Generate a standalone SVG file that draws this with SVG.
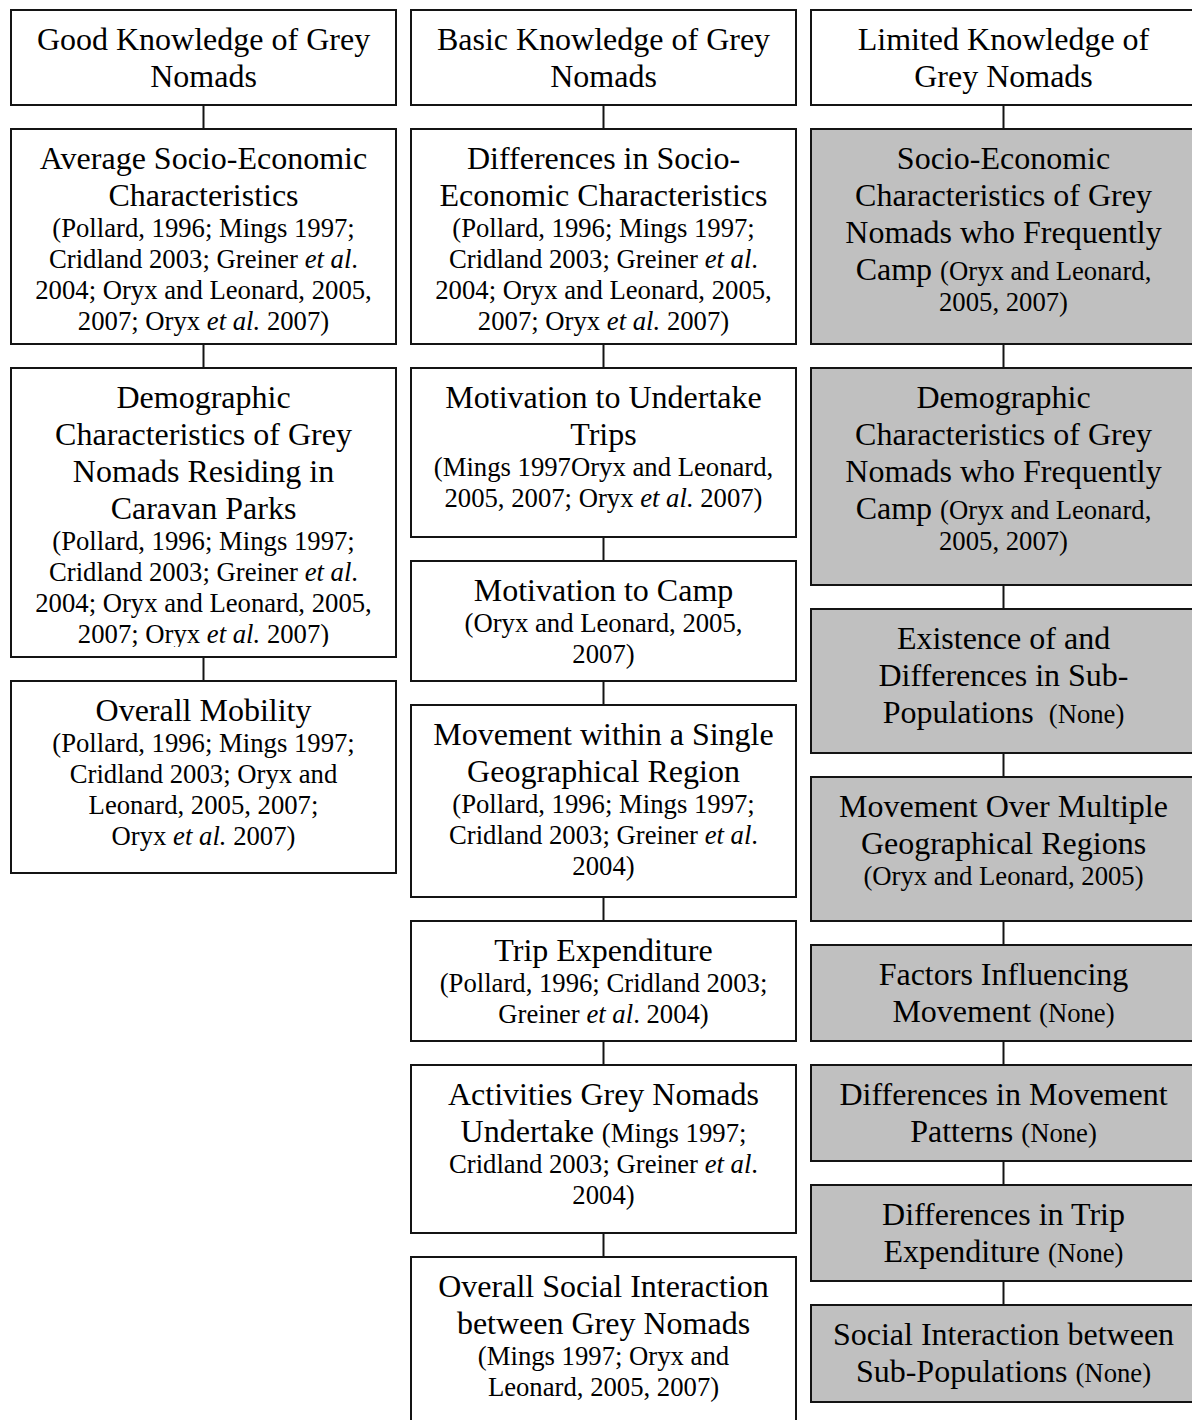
<svg xmlns="http://www.w3.org/2000/svg" width="1192" height="1420" viewBox="0 0 1192 1420">
  <style>
    .box { fill: #ffffff; stroke: #141414; stroke-width: 2; }
    .grey { fill: #c0c0c0; }
    .link { stroke: #141414; stroke-width: 2; fill: none; }
    text { font-family: "Liberation Serif", "Times New Roman", serif; fill: #000; text-anchor: middle; }
    .t { font-size: 32px; }
    .c { font-size: 26.7px; }
    .i { font-style: italic; }
  </style>
  <defs>
    <clipPath id="clip-c1-demo">
      <rect x="11" y="368" width="385" height="279"/>
    </clipPath>
  </defs>
  <rect width="1192" height="1420" fill="#ffffff"/>

  <!-- connectors between stacked boxes -->
  <g id="connectors">
    <line class="link" x1="203.5" y1="105" x2="203.5" y2="129"/>
    <line class="link" x1="203.5" y1="344" x2="203.5" y2="368"/>
    <line class="link" x1="203.5" y1="657" x2="203.5" y2="681"/>

    <line class="link" x1="603.5" y1="105" x2="603.5" y2="129"/>
    <line class="link" x1="603.5" y1="344" x2="603.5" y2="368"/>
    <line class="link" x1="603.5" y1="537" x2="603.5" y2="561"/>
    <line class="link" x1="603.5" y1="681" x2="603.5" y2="705"/>
    <line class="link" x1="603.5" y1="897" x2="603.5" y2="921"/>
    <line class="link" x1="603.5" y1="1041" x2="603.5" y2="1065"/>
    <line class="link" x1="603.5" y1="1233" x2="603.5" y2="1257"/>

    <line class="link" x1="1003.5" y1="105" x2="1003.5" y2="129"/>
    <line class="link" x1="1003.5" y1="344" x2="1003.5" y2="368"/>
    <line class="link" x1="1003.5" y1="585" x2="1003.5" y2="609"/>
    <line class="link" x1="1003.5" y1="753" x2="1003.5" y2="777"/>
    <line class="link" x1="1003.5" y1="921" x2="1003.5" y2="945"/>
    <line class="link" x1="1003.5" y1="1041" x2="1003.5" y2="1065"/>
    <line class="link" x1="1003.5" y1="1161" x2="1003.5" y2="1185"/>
    <line class="link" x1="1003.5" y1="1281" x2="1003.5" y2="1305"/>
  </g>

  <!-- Column 1: good knowledge -->
  <g id="good-knowledge">
    <rect class="box" x="11" y="10" width="385" height="95"/>
    <text class="t" x="203.5" y="50">Good Knowledge of Grey</text>
    <text class="t" x="203.5" y="87">Nomads</text>
  </g>
  <g id="avg-socio-economic">
    <rect class="box" x="11" y="129" width="385" height="215"/>
    <text class="t" x="203.5" y="169">Average Socio-Economic</text>
    <text class="t" x="203.5" y="206">Characteristics</text>
    <text class="c" x="203.5" y="237">(Pollard, 1996; Mings 1997;</text>
    <text class="c" x="203.5" y="268">Cridland 2003; Greiner <tspan class="i">et al</tspan>.</text>
    <text class="c" x="203.5" y="299">2004; Oryx and Leonard, 2005,</text>
    <text class="c" x="203.5" y="330">2007; Oryx <tspan class="i">et al.</tspan> 2007)</text>
  </g>
  <g id="demographic-caravan-parks">
    <rect class="box" x="11" y="368" width="385" height="289"/>
    <g clip-path="url(#clip-c1-demo)">
      <text class="t" x="203.5" y="408">Demographic</text>
      <text class="t" x="203.5" y="445">Characteristics of Grey</text>
      <text class="t" x="203.5" y="482">Nomads Residing in</text>
      <text class="t" x="203.5" y="519">Caravan Parks</text>
      <text class="c" x="203.5" y="550">(Pollard, 1996; Mings 1997;</text>
      <text class="c" x="203.5" y="581">Cridland 2003; Greiner <tspan class="i">et al</tspan>.</text>
      <text class="c" x="203.5" y="612">2004; Oryx and Leonard, 2005,</text>
      <text class="c" x="203.5" y="643">2007; Oryx <tspan class="i">et al.</tspan> 2007)</text>
    </g>
  </g>
  <g id="overall-mobility">
    <rect class="box" x="11" y="681" width="385" height="192"/>
    <text class="t" x="203.5" y="721">Overall Mobility</text>
    <text class="c" x="203.5" y="752">(Pollard, 1996; Mings 1997;</text>
    <text class="c" x="203.5" y="783">Cridland 2003; Oryx and</text>
    <text class="c" x="203.5" y="814">Leonard, 2005, 2007;</text>
    <text class="c" x="203.5" y="845">Oryx <tspan class="i">et al.</tspan> 2007)</text>
  </g>

  <!-- Column 2: basic knowledge -->
  <g id="basic-knowledge">
    <rect class="box" x="411" y="10" width="385" height="95"/>
    <text class="t" x="603.5" y="50">Basic Knowledge of Grey</text>
    <text class="t" x="603.5" y="87">Nomads</text>
  </g>
  <g id="diff-socio-economic">
    <rect class="box" x="411" y="129" width="385" height="215"/>
    <text class="t" x="603.5" y="169">Differences in Socio-</text>
    <text class="t" x="603.5" y="206">Economic Characteristics</text>
    <text class="c" x="603.5" y="237">(Pollard, 1996; Mings 1997;</text>
    <text class="c" x="603.5" y="268">Cridland 2003; Greiner <tspan class="i">et al</tspan>.</text>
    <text class="c" x="603.5" y="299">2004; Oryx and Leonard, 2005,</text>
    <text class="c" x="603.5" y="330">2007; Oryx <tspan class="i">et al.</tspan> 2007)</text>
  </g>
  <g id="motivation-trips">
    <rect class="box" x="411" y="368" width="385" height="169"/>
    <text class="t" x="603.5" y="408">Motivation to Undertake</text>
    <text class="t" x="603.5" y="445">Trips</text>
    <text class="c" x="603.5" y="476">(Mings 1997Oryx and Leonard,</text>
    <text class="c" x="603.5" y="507">2005, 2007; Oryx <tspan class="i">et al.</tspan> 2007)</text>
  </g>
  <g id="motivation-camp">
    <rect class="box" x="411" y="561" width="385" height="120"/>
    <text class="t" x="603.5" y="601">Motivation to Camp</text>
    <text class="c" x="603.5" y="632">(Oryx and Leonard, 2005,</text>
    <text class="c" x="603.5" y="663">2007)</text>
  </g>
  <g id="movement-single-region">
    <rect class="box" x="411" y="705" width="385" height="192"/>
    <text class="t" x="603.5" y="745">Movement within a Single</text>
    <text class="t" x="603.5" y="782">Geographical Region</text>
    <text class="c" x="603.5" y="813">(Pollard, 1996; Mings 1997;</text>
    <text class="c" x="603.5" y="844">Cridland 2003; Greiner <tspan class="i">et al</tspan>.</text>
    <text class="c" x="603.5" y="875">2004)</text>
  </g>
  <g id="trip-expenditure">
    <rect class="box" x="411" y="921" width="385" height="120"/>
    <text class="t" x="603.5" y="961">Trip Expenditure</text>
    <text class="c" x="603.5" y="992">(Pollard, 1996; Cridland 2003;</text>
    <text class="c" x="603.5" y="1023">Greiner <tspan class="i">et al</tspan>. 2004)</text>
  </g>
  <g id="activities">
    <rect class="box" x="411" y="1065" width="385" height="168"/>
    <text class="t" x="603.5" y="1105">Activities Grey Nomads</text>
    <text class="t" x="603.5" y="1142">Undertake <tspan class="c">(Mings 1997;</tspan></text>
    <text class="c" x="603.5" y="1173">Cridland 2003; Greiner <tspan class="i">et al</tspan>.</text>
    <text class="c" x="603.5" y="1204">2004)</text>
  </g>
  <g id="overall-social-interaction">
    <rect class="box" x="411" y="1257" width="385" height="200"/>
    <text class="t" x="603.5" y="1297">Overall Social Interaction</text>
    <text class="t" x="603.5" y="1334">between Grey Nomads</text>
    <text class="c" x="603.5" y="1365">(Mings 1997; Oryx and</text>
    <text class="c" x="603.5" y="1396">Leonard, 2005, 2007)</text>
  </g>

  <!-- Column 3: limited knowledge (shaded) -->
  <g id="limited-knowledge">
    <rect class="box" x="811" y="10" width="385" height="95"/>
    <text class="t" x="1003.5" y="50">Limited Knowledge of</text>
    <text class="t" x="1003.5" y="87">Grey Nomads</text>
  </g>
  <g id="socio-economic-campers">
    <rect class="box grey" x="811" y="129" width="385" height="215"/>
    <text class="t" x="1003.5" y="169">Socio-Economic</text>
    <text class="t" x="1003.5" y="206">Characteristics of Grey</text>
    <text class="t" x="1003.5" y="243">Nomads who Frequently</text>
    <text class="t" x="1003.5" y="280">Camp <tspan class="c">(Oryx and Leonard,</tspan></text>
    <text class="c" x="1003.5" y="311">2005, 2007)</text>
  </g>
  <g id="demographic-campers">
    <rect class="box grey" x="811" y="368" width="385" height="217"/>
    <text class="t" x="1003.5" y="408">Demographic</text>
    <text class="t" x="1003.5" y="445">Characteristics of Grey</text>
    <text class="t" x="1003.5" y="482">Nomads who Frequently</text>
    <text class="t" x="1003.5" y="519">Camp <tspan class="c">(Oryx and Leonard,</tspan></text>
    <text class="c" x="1003.5" y="550">2005, 2007)</text>
  </g>
  <g id="sub-populations">
    <rect class="box grey" x="811" y="609" width="385" height="144"/>
    <text class="t" x="1003.5" y="649">Existence of and</text>
    <text class="t" x="1003.5" y="686">Differences in Sub-</text>
    <text class="t" x="1003.5" y="723">Populations <tspan class="c" dx="7">(None)</tspan></text>
  </g>
  <g id="movement-multiple-regions">
    <rect class="box grey" x="811" y="777" width="385" height="144"/>
    <text class="t" x="1003.5" y="817">Movement Over Multiple</text>
    <text class="t" x="1003.5" y="854">Geographical Regions</text>
    <text class="c" x="1003.5" y="885">(Oryx and Leonard, 2005)</text>
  </g>
  <g id="factors-movement">
    <rect class="box grey" x="811" y="945" width="385" height="96"/>
    <text class="t" x="1003.5" y="985">Factors Influencing</text>
    <text class="t" x="1003.5" y="1022">Movement <tspan class="c">(None)</tspan></text>
  </g>
  <g id="diff-movement-patterns">
    <rect class="box grey" x="811" y="1065" width="385" height="96"/>
    <text class="t" x="1003.5" y="1105">Differences in Movement</text>
    <text class="t" x="1003.5" y="1142">Patterns <tspan class="c">(None)</tspan></text>
  </g>
  <g id="diff-trip-expenditure">
    <rect class="box grey" x="811" y="1185" width="385" height="96"/>
    <text class="t" x="1003.5" y="1225">Differences in Trip</text>
    <text class="t" x="1003.5" y="1262">Expenditure <tspan class="c">(None)</tspan></text>
  </g>
  <g id="sub-population-interaction">
    <rect class="box grey" x="811" y="1305" width="385" height="97"/>
    <text class="t" x="1003.5" y="1345">Social Interaction between</text>
    <text class="t" x="1003.5" y="1382">Sub-Populations <tspan class="c">(None)</tspan></text>
  </g>
</svg>
